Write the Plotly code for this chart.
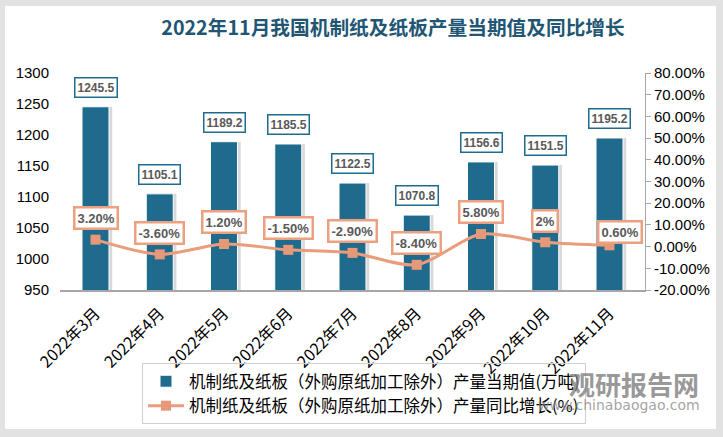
import base64
import plotly.graph_objects as go

categories = ["2022年3月", "2022年4月", "2022年5月", "2022年6月", "2022年7月",
              "2022年8月", "2022年9月", "2022年10月", "2022年11月"]
output_values = [1245.5, 1105.1, 1189.2, 1185.5, 1122.5, 1070.8, 1156.6, 1151.5, 1195.2]
growth_values = [3.2, -3.6, 1.2, -1.5, -2.9, -8.4, 5.8, 2.0, 0.6]
growth_labels = ["3.20%", "-3.60%", "1.20%", "-1.50%", "-2.90%", "-8.40%", "5.80%", "2%", "0.60%"]
left_ticks = [950, 1000, 1050, 1100, 1150, 1200, 1250, 1300]
right_ticks = [-20, -10, 0, 10, 20, 30, 40, 50, 60, 70, 80]
right_tick_labels = [f"{v:.2f}%" for v in right_ticks]

BAR_NAME = "机制纸及纸板（外购原纸加工除外）产量当期值(万吨)"
LINE_NAME = "机制纸及纸板（外购原纸加工除外）产量同比增长(%)"

BAR_COLOR = "#1f6b8e"
LINE_COLOR = "#eb9c7b"
CJK = "Noto Sans CJK SC"
NUM = "Liberation Sans"

# per-label (x, y) pixel offsets for growth labels (styling)
growth_label_shift = [(0, 22), (0, 21), (0, 22), (0, 22), (0, 22), (0, 22), (0, 22), (0, 21), (10, 13)]

W, H = 723, 437
ML, MR, MT, MB = 60, 78, 73, 147
PW, PH = W - ML - MR, H - MT - MB

# hatch background image for plot area
svg = (
    '<svg xmlns="http://www.w3.org/2000/svg" width="585" height="217">'
    '<defs><pattern id="p" width="4" height="4" patternUnits="userSpaceOnUse">'
    '<rect width="4" height="4" fill="#ffffff"/>'
    '<path d="M0,0 L4,4 M-1,3 L1,5 M3,-1 L5,1" stroke="#d6d6d6" stroke-width="0.9"/>'
    '</pattern></defs><rect width="585" height="217" fill="url(#p)"/></svg>'
)
svg_uri = "data:image/svg+xml;base64," + base64.b64encode(svg.encode()).decode()

fig = go.Figure()

# bar shadows
fig.add_trace(go.Bar(
    x=categories, y=output_values, yaxis="y",
    width=0.42, offset=-0.21 + 0.05,
    marker=dict(color="rgba(0,0,0,0.15)", line=dict(width=0)),
    showlegend=False, hoverinfo="skip",
))
fig.add_trace(go.Bar(
    x=categories, y=output_values, yaxis="y", name=BAR_NAME,
    width=0.42, offset=-0.21,
    marker=dict(color=BAR_COLOR, line=dict(color="#ffffff", width=1)),
))
fig.add_trace(go.Scatter(
    x=categories, y=growth_values, yaxis="y2", name=LINE_NAME,
    mode="lines+markers",
    line=dict(color=LINE_COLOR, width=3, shape="spline", smoothing=0.8),
    marker=dict(symbol="square", size=10, color="#e69878"),
))

annotations = []
for c, v in zip(categories, output_values):
    annotations.append(dict(
        x=c, y=v, xref="x", yref="y", text=f"{v:.1f}", showarrow=False,
        yanchor="bottom", yshift=9,
        font=dict(family=NUM, size=12, color="#595959", weight="bold"),
        bgcolor="#ffffff", bordercolor=BAR_COLOR, borderwidth=1.5, borderpad=2,
    ))
for c, v, t, (dx, dy) in zip(categories, growth_values, growth_labels, growth_label_shift):
    annotations.append(dict(
        x=c, y=v, xref="x", yref="y2", text=t, showarrow=False,
        yanchor="middle", xshift=dx, yshift=dy,
        font=dict(family=NUM, size=13, color="#595959", weight="bold"),
        bgcolor="#ffffff", bordercolor="#eda07f", borderwidth=2.5, borderpad=2,
    ))

# watermark
annotations.append(dict(
    xref="paper", yref="paper", x=(701 - ML) / PW, y=-(383 - (H - MB)) / PH,
    xanchor="right", yanchor="middle", text="<b>观研报告网</b>", showarrow=False,
    font=dict(family=CJK, size=26, color="rgba(125,125,125,0.8)"),
))
annotations.append(dict(
    xref="paper", yref="paper", x=(702 - ML) / PW, y=-(405 - (H - MB)) / PH,
    xanchor="right", yanchor="middle", text="www.chinabaogao.com", showarrow=False,
    font=dict(family="DejaVu Sans", size=14, color="rgba(140,140,140,0.8)"),
))

fig.update_layout(
    width=W, height=H, autosize=False,
    margin=dict(l=ML, r=MR, t=MT, b=MB),
    paper_bgcolor="#e2e2e2", plot_bgcolor="rgba(0,0,0,0)",
    barmode="overlay",
    title=dict(
        text="2022年11月我国机制纸及纸板产量当期值及同比增长",
        x=393 / W, xref="container", xanchor="center",
        y=1 - 28 / H, yref="container", yanchor="middle",
        font=dict(family=CJK, size=19.7, color="#1f5673", weight="bold"),
    ),
    xaxis=dict(
        type="category", showline=True, linecolor="#a6a6a6", linewidth=1.5,
        ticks="", tickangle=-45, showgrid=False, automargin=False,
        ticklabelstandoff=6,
        tickfont=dict(family=CJK, size=16, color="#000000"),
    ),
    yaxis=dict(
        range=[950, 1300], tickvals=left_ticks, showgrid=False, zeroline=False,
        showline=False, ticks="", ticklabelstandoff=10, automargin=False,
        tickfont=dict(family=NUM, size=15, color="#000000"),
    ),
    yaxis2=dict(
        overlaying="y", side="right", range=[-20, 80],
        tickvals=right_ticks, ticktext=right_tick_labels,
        showgrid=False, zeroline=False, automargin=False,
        showline=True, linecolor="#a6a6a6", linewidth=1, ticks="outside",
        ticklen=5, tickcolor="#a6a6a6",
        tickfont=dict(family=NUM, size=15, color="#000000"),
    ),
    legend=dict(
        x=(142 - ML) / PW, y=-(363 - (H - MB)) / PH,
        xanchor="left", yanchor="top",
        bgcolor="rgba(255,255,255,0)", bordercolor="#d0d0d0", borderwidth=1,
        font=dict(family=CJK, size=16.5, color="#000000"),
        tracegroupgap=0, itemwidth=36,
    ),
    annotations=annotations,
    images=[dict(
        source=svg_uri, xref="paper", yref="paper", x=0, y=1, sizex=1, sizey=1,
        xanchor="left", yanchor="top", sizing="stretch", layer="below",
    )],
    shapes=[dict(
        type="rect", xref="paper", yref="paper", layer="below",
        x0=-(ML - 5) / PW, x1=1 + (716 - (W - MR)) / PW,
        y0=-(429 - (H - MB)) / PH, y1=1 + (MT - 6) / PH,
        fillcolor="#ffffff", line=dict(width=0),
    )],
)

fig.write_html(
    "out.html",
    config={"displayModeBar": False},
    post_script="document.body.style.margin='0';document.body.style.padding='0';"
                "document.body.style.overflow='hidden';",
)
